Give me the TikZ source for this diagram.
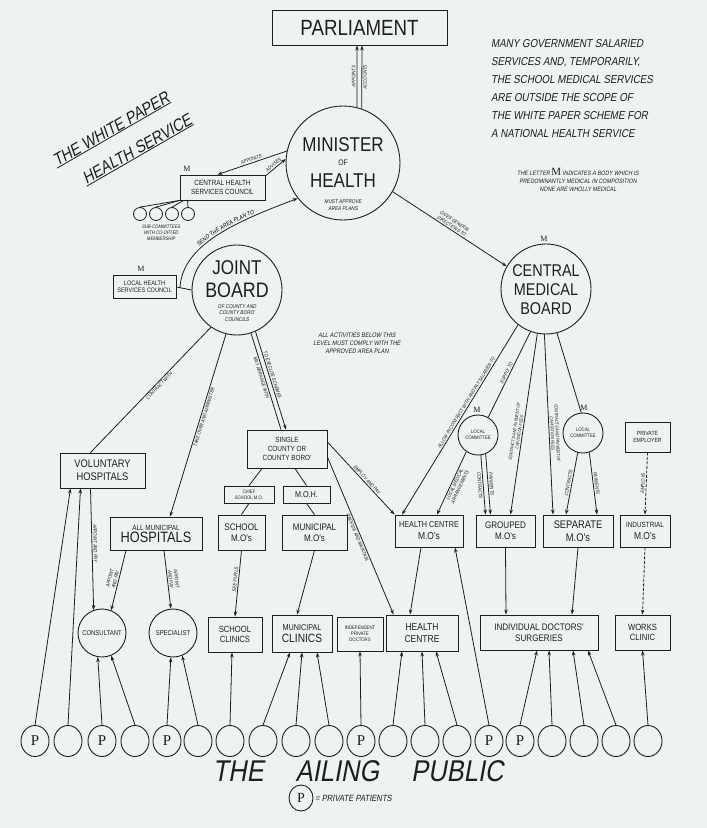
\documentclass[tikz,border=0pt]{standalone}
\usepackage{fontspec}
\setmainfont{Liberation Sans}
\newfontfamily\hand[FakeStretch=0.85]{Liberation Sans}
\newfontfamily\handi[FakeStretch=0.85,FakeSlant=0.18]{Liberation Sans}
\newfontfamily\pserif{Liberation Serif}
\usetikzlibrary{arrows.meta,shapes.geometric,decorations.text}
\newcommand\myfs[1]{\fontsize{#1}{\fpeval{1.15*#1}}\selectfont}
\definecolor{ink}{RGB}{30,30,30}
\definecolor{paper}{RGB}{238,243,240}
\begin{document}
\begin{tikzpicture}[x=1pt,y=-1pt,
  box/.style={draw=ink, line width=0.9pt, align=center, inner sep=1pt, text=ink, font=\hand},
  ring/.style={draw=ink, circle, line width=0.9pt, align=center, inner sep=0pt, text=ink, font=\hand},
  pub/.style={draw=ink, ellipse, line width=0.9pt, minimum width=28pt, minimum height=31pt, inner sep=0pt, text=ink, font=\pserif\myfs{15}},
  small/.style={draw=ink, circle, line width=0.8pt, minimum size=13pt, inner sep=0pt},
  txt/.style={inner sep=1pt, text=ink, align=center},
  ln/.style={draw=ink, line width=0.8pt},
  arr/.style={ln, -{Stealth[length=5pt,width=3.5pt]}},
  rarr/.style={ln, {Stealth[length=5pt,width=3.5pt]}-},
  lbl/.style={font=\handi\myfs{5}, sloped, inner sep=1.2pt, text=ink, align=center},
  mk/.style={font=\pserif\myfs{8}, text=ink, inner sep=0pt},
  dsh/.style={dash pattern=on 3pt off 1.5pt}
]
\fill[paper] (0,0) rectangle (707,828);
\useasboundingbox (0,0) rectangle (707,828);

% ---------- title ----------
\node[txt, font=\handi\myfs{17}, rotate=30, inner sep=0pt] (t1) at (111,129) {THE WHITE PAPER};
\node[txt, font=\handi\myfs{17}, rotate=30, inner sep=0pt] (t2) at (137,149) {HEALTH SERVICE};
\draw[ln] ([yshift=-1]t1.south west) -- ([yshift=-1]t1.south east);
\draw[ln] ([yshift=-1]t2.south west) -- ([yshift=-1]t2.south east);

% ---------- top ----------
\node[box, minimum width=175pt, minimum height=35pt, font=\hand\myfs{22}] (parl) at (359.5,27.5) {PARLIAMENT};

\node[ring, minimum size=114pt] (min) at (343,163) {};
\node[txt, font=\hand\myfs{20}] (minA) at (343,145) {MINISTER};
\node[txt, font=\hand\myfs{8}] (minB) at (343,163) {OF};
\node[txt, font=\hand\myfs{20}] (minC) at (343,181) {HEALTH};
\node[txt, font=\handi\myfs{5.5}] (minD) at (343,205) {MUST APPROVE\\AREA PLANS};

\node[txt, font=\handi\fontsize{11.5}{18}\selectfont, align=left, anchor=north west] (note) at (490,38)
 {MANY GOVERNMENT SALARIED\\SERVICES AND, TEMPORARILY,\\THE SCHOOL MEDICAL SERVICES\\ARE OUTSIDE THE SCOPE OF\\THE WHITE PAPER SCHEME FOR\\A NATIONAL HEALTH SERVICE};
\node[txt, font=\handi\fontsize{6.3}{8}\selectfont] (mnote) at (578,180)
 {THE LETTER {\pserif\fontsize{11}{8}\selectfont M} INDICATES A BODY WHICH IS\\PREDOMINANTLY MEDICAL IN COMPOSITION\\NONE ARE WHOLLY MEDICAL};

\draw[rarr] ([xshift=-2.5]parl.south) -- (min.76) node[lbl, midway, above] {APPOINTS};
\draw[arr] (min.71) -- ([xshift=2.5]parl.south) node[lbl, midway, below] {ACCOUNTS};

% ---------- central health services council ----------
\node[box, minimum width=85pt, minimum height=25pt, font=\hand\myfs{7.5}] (chsc) at (222.5,187.5) {CENTRAL HEALTH\\SERVICES COUNCIL};
\node[mk] (mchsc) at (187,169) {M};
\draw[arr] (min.168) -- ([xshift=-5]chsc.north) node[lbl, midway, above] {APPOINTS};
\draw[arr] (chsc.15) -- (min.176) node[lbl, midway, above] {ADVISES};

\node[small] (sc1) at (140,214) {};
\node[small] (sc2) at (156,214) {};
\node[small] (sc3) at (172,214) {};
\node[small] (sc4) at (188,214) {};
\draw[ln] (chsc.south west) -- (sc1.north);
\draw[ln] (chsc.south west) -- (sc2.north);
\draw[ln] ([xshift=4]chsc.south west) -- (sc3.north);
\draw[ln] ([xshift=8]chsc.south west) -- (sc4.north);
\node[txt, font=\handi\myfs{5}] (sclab) at (161,233) {SUB-COMMITTEES\\WITH CO-OPTED\\MEMBERSHIP};

% ---------- joint board ----------
\node[ring, minimum size=90pt] (jb) at (237,290) {};
\node[txt, font=\hand\myfs{20}] (jbA) at (237,268) {JOINT};
\node[txt, font=\hand\myfs{21}] (jbB) at (237,290) {BOARD};
\node[txt, font=\handi\myfs{5.5}] (jbC) at (237,313) {OF COUNTY AND\\COUNTY BORO'\\COUNCILS};

\node[box, minimum width=63pt, minimum height=23pt, font=\hand\myfs{6.5}] (lhsc) at (144.5,287) {LOCAL HEALTH\\SERVICES COUNCIL};
\node[mk] (mlhsc) at (141,269) {M};
\draw[ln] (lhsc.east) -- (jb.west);
\coordinate (js) at (180,288);
\draw[arr, postaction={decorate, decoration={text along path, text align=center, raise=2pt,
   text={|\handi\myfs{6}|SEND THE AREA PLAN TO}}}]
   (js) .. controls (182,245) and (235,222) .. (min.218);

\node[txt, font=\handi\fontsize{6.5}{8}\selectfont] (allact) at (357,343) {ALL ACTIVITIES BELOW THIS\\LEVEL MUST COMPLY WITH THE\\APPROVED AREA PLAN};

% ---------- central medical board ----------
\node[ring, minimum size=90pt] (cmb) at (546,289) {};
\node[txt, font=\hand\myfs{17}] (cmbA) at (546,271) {CENTRAL};
\node[txt, font=\hand\myfs{17}] (cmbB) at (546,290) {MEDICAL};
\node[txt, font=\hand\myfs{17}] (cmbC) at (546,309) {BOARD};
\node[mk] (mcmb) at (544,239) {M};
\draw[arr] (min.-30) -- (cmb.150) node[lbl, midway, above] {GIVES GENERAL\\DIRECTIONS TO};

% ---------- middle boxes ----------
\node[box, minimum width=85pt, minimum height=35pt, font=\hand\myfs{11}] (vh) at (102.5,470.5) {VOLUNTARY\\HOSPITALS};
\node[box, minimum width=92pt, minimum height=33pt, inner sep=0pt] (amh) at (156,533.5) {{\myfs{7.5}ALL MUNICIPAL}\\{\myfs{15}HOSPITALS}};
\node[box, minimum width=80pt, minimum height=38pt, font=\hand\myfs{7.5}] (scb) at (287,449) {SINGLE\\COUNTY OR\\COUNTY BORO'};
\node[box, minimum width=50pt, minimum height=17pt, font=\hand\myfs{5}] (csmo) at (249,494.5) {CHIEF\\SCHOOL M.O.};
\node[box, minimum width=47pt, minimum height=17pt, font=\hand\myfs{8.5}] (moh) at (306.5,494.5) {M.O.H.};
\node[box, minimum width=47pt, minimum height=35pt, font=\hand\myfs{9.5}] (smo) at (241.5,532.5) {SCHOOL\\M.O's};
\node[box, minimum width=65pt, minimum height=35pt, font=\hand\myfs{9.5}] (mmo) at (314.5,532.5) {MUNICIPAL\\M.O's};
\node[box, minimum width=68pt, minimum height=32pt] (hcmo) at (429,531) {{\myfs{8.5}HEALTH CENTRE}\\{\myfs{10}M.O's}};
\node[box, minimum width=59pt, minimum height=32pt, font=\hand\myfs{9.5}] (gmo) at (505.5,531) {GROUPED\\M.O's};
\node[box, minimum width=70pt, minimum height=32pt, font=\hand\myfs{11}] (sepmo) at (578,531) {SEPARATE\\M.O's};
\node[box, minimum width=50pt, minimum height=32pt] (imo) at (645,531) {{\myfs{7.5}INDUSTRIAL}\\{\myfs{10}M.O's}};
\node[box, minimum width=45pt, minimum height=30pt, font=\hand\myfs{6}] (pe) at (647.5,437) {PRIVATE\\EMPLOYER};

\node[ring, minimum size=40pt, font=\hand\myfs{5}] (lc1) at (478,435) {LOCAL\\COMMITTEE};
\node[ring, minimum size=40pt, font=\hand\myfs{5}] (lc2) at (583,433) {LOCAL\\COMMITTEE};
\node[mk] (mlc1) at (477,410) {M};
\node[mk] (mlc2) at (584,408) {M};

% ---------- lower row ----------
\node[ring, minimum size=48pt, font=\hand\myfs{7}] (cons) at (102,633) {CONSULTANT};
\node[ring, minimum size=48pt, font=\hand\myfs{7}] (spec) at (173,633) {SPECIALIST};
\node[box, minimum width=54pt, minimum height=35pt, font=\hand\myfs{9}] (sc) at (235,634.5) {SCHOOL\\CLINICS};
\node[box, minimum width=60pt, minimum height=37pt] (mc) at (302,633.5) {{\myfs{8.5}MUNICIPAL}\\{\myfs{12}CLINICS}};
\node[box, minimum width=46pt, minimum height=34pt, font=\hand\myfs{5}] (ipd) at (360,634) {INDEPENDENT\\PRIVATE\\DOCTORS};
\node[box, minimum width=72pt, minimum height=36pt, font=\hand\myfs{10}] (hc) at (422,633) {HEALTH\\CENTRE};
\node[box, minimum width=118pt, minimum height=35pt, font=\hand\myfs{9.5}] (ids) at (539,632.5) {INDIVIDUAL DOCTORS'\\SURGERIES};
\node[box, minimum width=55pt, minimum height=35pt, font=\hand\myfs{9}] (wc) at (642.5,632.5) {WORKS\\CLINIC};

% joint board connectors
\draw[ln] (jb.235) -- ([xshift=-12]vh.north) node[lbl, pos=0.45, below] {CONTRACT WITH};
\draw[arr] (jb.256) -- ([xshift=14]amh.north) node[lbl, pos=0.45, below] {TAKE OVER AND ADMINISTER};
\draw[arr] (jb.294) -- ([xshift=-1]scb.north) node[lbl, pos=0.45, above] {TO EXECUTE SCHEMES};
\draw[ln] (jb.288) -- ([xshift=-6]scb.north) node[lbl, pos=0.45, below] {MAY ARRANGE WITH};

% single county tree
\draw[ln] ([xshift=-25]scb.south) -- (csmo.north);
\draw[ln] ([xshift=8]scb.south) -- (moh.north);
\draw[ln] (csmo.south) -- (smo.north);
\draw[ln] (moh.south) -- (mmo.north);
\draw[arr] ([yshift=7]scb.east) -- (hcmo.north west) node[lbl, pos=0.55, above] {EMPLOY AND PAY};
\draw[arr] ([yshift=-8]scb.east) -- ([xshift=8]hc.north west) node[lbl, pos=0.5, below] {PROVIDE AND MAINTAIN};

% central medical board connectors
\draw[arr] (cmb.232) -- ([xshift=-27]hcmo.north) node[lbl, pos=0.42, above] {ALLOW IN CONTRACT WITH AND PAY SALARIES TO};
\draw[ln] (cmb.250) -- (lc1.60) node[lbl, pos=0.5, above] {SUPPLY TO};
\draw[arr] (cmb.259) -- ([xshift=5]gmo.north) node[lbl, pos=0.55, above, font=\handi\fontsize{4.5}{5}\selectfont] {CONTRACTS AND PAYMENT OF\\CAPITATION FEES};
\draw[arr] (cmb.268) -- ([xshift=-25]sepmo.north) node[lbl, pos=0.55, above, font=\handi\fontsize{4.5}{5}\selectfont] {CONTRACTS AND PAYMENT OF\\CAPITATION FEES};
\draw[ln] (cmb.284) -- (lc2.95);

% local committees
\draw[arr] (lc1.235) -- ([xshift=8]hcmo.north) node[lbl, pos=0.5, below] {LOCAL MEDICAL\\ARRANGEMENTS};
\draw[arr] (lc1.-82) -- ([xshift=-20]gmo.north) node[lbl, pos=0.5, below] {CONTRACTS};
\draw[arr] (lc1.-68) -- ([xshift=-15]gmo.north) node[lbl, pos=0.5, above] {PAYMENTS};
\draw[arr] (lc2.-105) -- ([xshift=-12]sepmo.north) node[lbl, pos=0.5, above] {CONTRACTS};
\draw[arr] (lc2.-72) -- ([xshift=19]sepmo.north) node[lbl, pos=0.5, above] {PAYMENTS};
\draw[arr, dsh] (pe.south) -- (imo.north) node[lbl, pos=0.5, above] {EMPLOYS};

% middle to lower
\draw[arr] ([xshift=-12]vh.south) -- (cons.110) node[lbl, pos=0.45, above] {APPOINT AND PAY};
\draw[arr] ([xshift=-30]amh.south) -- (cons.68) node[lbl, pos=0.5, above] {APPOINT\\AND PAY};
\draw[arr] ([xshift=8]amh.south) -- (spec.95) node[lbl, pos=0.5, above] {APPOINT\\AND PAY};
\draw[arr] (smo.south) -- (sc.north) node[lbl, pos=0.45, above] {SEE PUPILS};
\draw[arr] (mmo.south) -- ([xshift=-5]mc.north);
\draw[arr] ([xshift=-8]hcmo.south) -- ([xshift=-12]hc.north);
\draw[arr] (gmo.south) -- ([xshift=-33]ids.north);
\draw[arr] (sepmo.south) -- ([xshift=33]ids.north);
\draw[arr, dsh] (imo.south) -- (wc.north);

% ---------- the ailing public ----------
\foreach \i/\x/\t in {1/35/P,2/68/,3/102/P,4/135/,5/167/P,6/198/,7/230/,8/263/,9/296/,10/329/,
  11/361/P,12/393/,13/425/,14/457/,15/489/P,16/520/P,17/552/,18/584/,19/616/,20/648/}
  { \node[pub] (p\i) at (\x,741) {\t}; }

\draw[arr] (p1.north) -- ([xshift=-32]vh.south);
\draw[arr] (p2.north) -- ([xshift=-22]vh.south);
\draw[arr] (p3.north) -- (cons.-100);
\draw[arr] (p4.north) -- (cons.-68);
\draw[arr] (p5.north) -- (spec.-95);
\draw[arr] (p6.north) -- (spec.-68);
\draw[arr] (p7.north) -- ([xshift=-3]sc.south);
\draw[arr] (p8.north) -- ([xshift=-12]mc.south);
\draw[arr] (p9.north) -- (mc.south);
\draw[arr] (p10.north) -- ([xshift=15]mc.south);
\draw[arr] (p11.north) -- (ipd.south);
\draw[arr] (p12.north) -- ([xshift=-20]hc.south);
\draw[arr] (p13.north) -- (hc.south);
\draw[arr] (p14.north) -- ([xshift=14]hc.south);
\draw[arr] (p15.north) -- ([xshift=26]hcmo.south);
\draw[arr] (p16.north) -- ([xshift=-2]ids.south);
\draw[arr] (p17.north) -- ([xshift=10]ids.south);
\draw[arr] (p18.north) -- ([xshift=34]ids.south);
\draw[arr] (p19.north) -- ([xshift=49]ids.south);
\draw[arr] (p20.north) -- (wc.south);

\node[txt, font=\handi\myfs{30}] (ail) at (358,771) {THE\hspace{32pt}AILING\hspace{32pt}PUBLIC};
\node[pub, minimum width=24pt, minimum height=26pt, font=\pserif\myfs{14}] (legP) at (301,798) {P};
\node[txt, font=\handi\myfs{9}, anchor=west] (legT) at (314,798) {= PRIVATE PATIENTS};
\end{tikzpicture}
\end{document}
